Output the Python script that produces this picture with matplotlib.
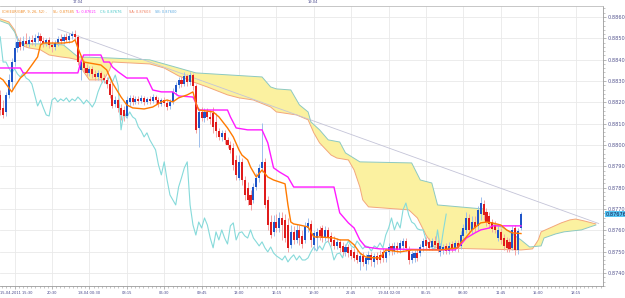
import matplotlib
matplotlib.use("Agg")
import matplotlib.pyplot as plt
import matplotlib.transforms as mtransforms
from matplotlib.ticker import FixedLocator, MultipleLocator, FormatStrFormatter
import numpy as np

# %% EUR/GBP 15 min candles
opens = [0.88235, 0.88174, 0.88155, 0.88235, 0.88296, 0.88389, 0.88455, 0.88483, 0.88464, 0.88488,
         0.88474, 0.88493, 0.88483, 0.88502, 0.88511, 0.88488, 0.88478, 0.88493, 0.88469, 0.88460,
         0.88478, 0.88497, 0.88488, 0.88507, 0.88493, 0.88511, 0.88521, 0.88507, 0.88352, 0.88389,
         0.88361, 0.88338, 0.88357, 0.88333, 0.88319, 0.88338, 0.88314, 0.88305, 0.88286, 0.88235,
         0.88193, 0.88211, 0.88174, 0.88164, 0.88136, 0.88202, 0.88221, 0.88202, 0.88216, 0.88207,
         0.88221, 0.88202, 0.88216, 0.88207, 0.88225, 0.88211, 0.88193, 0.88211, 0.88197, 0.88183,
         0.88202, 0.88249, 0.88282, 0.88305, 0.88286, 0.88324, 0.88296, 0.88328, 0.88277, 0.88080,
         0.88155, 0.88127, 0.88155, 0.88132, 0.88150, 0.88108, 0.88066, 0.88038, 0.88057, 0.88024,
         0.88000, 0.87986, 0.87930, 0.87846, 0.87921, 0.87836, 0.87799, 0.87766, 0.87743, 0.87803,
         0.87846, 0.87893, 0.87921, 0.87743, 0.87639, 0.87593, 0.87639, 0.87611, 0.87658, 0.87649,
         0.87625, 0.87532, 0.87593, 0.87555, 0.87602, 0.87574, 0.87555, 0.87611, 0.87630, 0.87532,
         0.87564, 0.87602, 0.87611, 0.87564, 0.87602, 0.87574, 0.87555, 0.87527, 0.87546, 0.87527,
         0.87499, 0.87522, 0.87508, 0.87499, 0.87485, 0.87452, 0.87480, 0.87443, 0.87461, 0.87485,
         0.87452, 0.87480, 0.87485, 0.87499, 0.87471, 0.87499, 0.87527, 0.87503, 0.87527, 0.87508,
         0.87527, 0.87550, 0.87508, 0.87461, 0.87471, 0.87494, 0.87494, 0.87522, 0.87555, 0.87546,
         0.87522, 0.87550, 0.87541, 0.87499, 0.87508, 0.87527, 0.87503, 0.87536, 0.87518, 0.87541,
         0.87527, 0.87574, 0.87602, 0.87658, 0.87602, 0.87639, 0.87621, 0.87677, 0.87724, 0.87686,
         0.87668, 0.87639, 0.87625, 0.87564, 0.87593, 0.87564, 0.87555, 0.87546, 0.87518, 0.87611,
         0.87508, 0.87611]
highs = [0.88258, 0.88211, 0.88249, 0.88333, 0.88408, 0.88483, 0.88511, 0.88507, 0.88511, 0.88525,
         0.88511, 0.88516, 0.88521, 0.88530, 0.88525, 0.88507, 0.88502, 0.88507, 0.88488, 0.88493,
         0.88511, 0.88521, 0.88521, 0.88525, 0.88525, 0.88535, 0.88539, 0.88516, 0.88408, 0.88399,
         0.88380, 0.88371, 0.88371, 0.88352, 0.88352, 0.88347, 0.88333, 0.88319, 0.88300, 0.88291,
         0.88230, 0.88221, 0.88193, 0.88183, 0.88230, 0.88235, 0.88235, 0.88230, 0.88230, 0.88235,
         0.88230, 0.88225, 0.88230, 0.88239, 0.88235, 0.88225, 0.88221, 0.88225, 0.88211, 0.88216,
         0.88268, 0.88296, 0.88319, 0.88324, 0.88343, 0.88333, 0.88343, 0.88338, 0.88286, 0.88174,
         0.88178, 0.88174, 0.88174, 0.88164, 0.88178, 0.88150, 0.88080, 0.88071, 0.88071, 0.88038,
         0.88019, 0.88010, 0.87953, 0.87953, 0.87939, 0.87855, 0.87827, 0.87789, 0.87822, 0.87869,
         0.87911, 0.88103, 0.87939, 0.87761, 0.87672, 0.87672, 0.87677, 0.87686, 0.87686, 0.87677,
         0.87658, 0.87625, 0.87621, 0.87630, 0.87625, 0.87602, 0.87639, 0.87658, 0.87649, 0.87602,
         0.87611, 0.87621, 0.87625, 0.87621, 0.87616, 0.87593, 0.87574, 0.87564, 0.87560, 0.87546,
         0.87536, 0.87536, 0.87522, 0.87518, 0.87508, 0.87499, 0.87499, 0.87489, 0.87503, 0.87499,
         0.87494, 0.87499, 0.87508, 0.87518, 0.87513, 0.87541, 0.87541, 0.87546, 0.87546, 0.87555,
         0.87564, 0.87564, 0.87527, 0.87503, 0.87508, 0.87513, 0.87536, 0.87564, 0.87569, 0.87564,
         0.87564, 0.87574, 0.87555, 0.87541, 0.87536, 0.87541, 0.87546, 0.87550, 0.87555, 0.87555,
         0.87597, 0.87630, 0.87686, 0.87677, 0.87668, 0.87668, 0.87714, 0.87757, 0.87743, 0.87705,
         0.87686, 0.87653, 0.87644, 0.87621, 0.87611, 0.87583, 0.87569, 0.87564, 0.87621, 0.87625,
         0.87611, 0.87686]
lows = [0.88141, 0.88127, 0.88136, 0.88221, 0.88258, 0.88371, 0.88436, 0.88446, 0.88446, 0.88460,
        0.88460, 0.88469, 0.88464, 0.88483, 0.88474, 0.88460, 0.88464, 0.88455, 0.88436, 0.88446,
        0.88464, 0.88474, 0.88474, 0.88483, 0.88478, 0.88497, 0.88493, 0.88375, 0.88305, 0.88343,
        0.88324, 0.88324, 0.88314, 0.88305, 0.88305, 0.88296, 0.88291, 0.88268, 0.88221, 0.88174,
        0.88178, 0.88155, 0.88118, 0.88113, 0.88127, 0.88183, 0.88188, 0.88193, 0.88193, 0.88197,
        0.88188, 0.88193, 0.88193, 0.88197, 0.88193, 0.88178, 0.88183, 0.88183, 0.88164, 0.88169,
        0.88193, 0.88235, 0.88268, 0.88272, 0.88277, 0.88277, 0.88282, 0.88258, 0.88057, 0.87991,
        0.88113, 0.88108, 0.88118, 0.88099, 0.88057, 0.88038, 0.88024, 0.88019, 0.88005, 0.87986,
        0.87963, 0.87883, 0.87836, 0.87836, 0.87813, 0.87743, 0.87719, 0.87696, 0.87728, 0.87789,
        0.87827, 0.87874, 0.87705, 0.87602, 0.87564, 0.87574, 0.87593, 0.87593, 0.87555, 0.87546,
        0.87499, 0.87518, 0.87536, 0.87541, 0.87532, 0.87518, 0.87541, 0.87593, 0.87522, 0.87508,
        0.87508, 0.87555, 0.87546, 0.87550, 0.87546, 0.87527, 0.87513, 0.87513, 0.87499, 0.87485,
        0.87480, 0.87475, 0.87466, 0.87457, 0.87447, 0.87414, 0.87433, 0.87414, 0.87443, 0.87433,
        0.87428, 0.87443, 0.87447, 0.87452, 0.87452, 0.87485, 0.87485, 0.87489, 0.87494, 0.87494,
        0.87508, 0.87503, 0.87443, 0.87447, 0.87452, 0.87457, 0.87480, 0.87503, 0.87513, 0.87508,
        0.87508, 0.87518, 0.87499, 0.87480, 0.87489, 0.87489, 0.87489, 0.87499, 0.87503, 0.87499,
        0.87513, 0.87555, 0.87588, 0.87583, 0.87583, 0.87593, 0.87602, 0.87649, 0.87649, 0.87621,
        0.87611, 0.87593, 0.87588, 0.87550, 0.87536, 0.87508, 0.87499, 0.87499, 0.87508, 0.87485,
        0.87489, 0.87602]
closes = [0.88164, 0.88141, 0.88235, 0.88305, 0.88389, 0.88455, 0.88483, 0.88460, 0.88488, 0.88474,
          0.88493, 0.88483, 0.88502, 0.88511, 0.88488, 0.88478, 0.88493, 0.88469, 0.88460, 0.88478,
          0.88497, 0.88488, 0.88507, 0.88493, 0.88511, 0.88521, 0.88507, 0.88389, 0.88389, 0.88361,
          0.88338, 0.88357, 0.88333, 0.88319, 0.88338, 0.88314, 0.88305, 0.88286, 0.88235, 0.88183,
          0.88211, 0.88174, 0.88141, 0.88136, 0.88211, 0.88221, 0.88202, 0.88216, 0.88207, 0.88221,
          0.88202, 0.88216, 0.88207, 0.88225, 0.88211, 0.88193, 0.88211, 0.88197, 0.88178, 0.88202,
          0.88249, 0.88282, 0.88305, 0.88286, 0.88324, 0.88296, 0.88328, 0.88277, 0.88071, 0.88155,
          0.88127, 0.88155, 0.88132, 0.88122, 0.88085, 0.88066, 0.88038, 0.88057, 0.88024, 0.88000,
          0.87977, 0.87907, 0.87860, 0.87921, 0.87836, 0.87766, 0.87743, 0.87719, 0.87803, 0.87846,
          0.87893, 0.87921, 0.87719, 0.87625, 0.87578, 0.87639, 0.87611, 0.87658, 0.87625, 0.87564,
          0.87518, 0.87593, 0.87555, 0.87602, 0.87564, 0.87536, 0.87621, 0.87635, 0.87555, 0.87588,
          0.87593, 0.87574, 0.87564, 0.87602, 0.87564, 0.87546, 0.87527, 0.87546, 0.87518, 0.87499,
          0.87522, 0.87494, 0.87480, 0.87471, 0.87461, 0.87480, 0.87452, 0.87471, 0.87485, 0.87461,
          0.87480, 0.87461, 0.87461, 0.87471, 0.87499, 0.87522, 0.87503, 0.87527, 0.87508, 0.87541,
          0.87550, 0.87518, 0.87461, 0.87489, 0.87494, 0.87471, 0.87522, 0.87550, 0.87527, 0.87518,
          0.87550, 0.87532, 0.87513, 0.87527, 0.87522, 0.87503, 0.87527, 0.87518, 0.87541, 0.87518,
          0.87578, 0.87611, 0.87658, 0.87602, 0.87639, 0.87611, 0.87696, 0.87728, 0.87672, 0.87639,
          0.87630, 0.87607, 0.87602, 0.87602, 0.87555, 0.87527, 0.87518, 0.87513, 0.87602, 0.87508,
          0.87597, 0.87676]

# %% ichimoku lines (bar index, price)
tenkan_bars = [0, 1, 3, 4, 5, 7, 9, 11, 13, 14, 15, 22, 25, 26, 27, 28, 29, 35, 37, 39, 42, 44, 46,
               50, 53, 56, 58, 60, 62, 65, 67, 68, 69, 74, 76, 79, 81, 83, 84, 86, 87, 89, 91, 93,
               95, 97, 99, 100, 101, 102, 104, 107, 109, 111, 116, 118, 121, 123, 125, 127, 130,
               132, 134, 139, 143, 148, 153, 159, 160, 162, 164, 167, 169, 171, 174, 176, 178, 181]
tenkan = [0.88314, 0.88305, 0.88268, 0.88249, 0.88272, 0.88314, 0.88338, 0.88375, 0.88413, 0.88469,
          0.88478, 0.88478, 0.88483, 0.88493, 0.88455, 0.88422, 0.88389, 0.88375, 0.88352, 0.88291,
          0.88225, 0.88188, 0.88174, 0.88169, 0.88178, 0.88202, 0.88211, 0.88202, 0.88221, 0.88235,
          0.88249, 0.88197, 0.88164, 0.88155, 0.88132, 0.88080, 0.88038, 0.87977, 0.87953, 0.87930,
          0.87897, 0.87850, 0.87883, 0.87850, 0.87836, 0.87827, 0.87818, 0.87719, 0.87639, 0.87630,
          0.87625, 0.87616, 0.87569, 0.87569, 0.87564, 0.87555, 0.87555, 0.87532, 0.87494, 0.87475,
          0.87471, 0.87471, 0.87508, 0.87499, 0.87508, 0.87508, 0.87508, 0.87518, 0.87541, 0.87569,
          0.87602, 0.87635, 0.87639, 0.87635, 0.87625, 0.87602, 0.87588, 0.87585]

kijun_bars = [0, 7, 8, 27, 28, 29, 35, 36, 38, 39, 41, 44, 51, 53, 56, 60, 62, 67, 68, 69, 79, 80,
              82, 86, 91, 93, 95, 97, 100, 102, 116, 118, 121, 123, 125, 127, 132, 158, 160, 162,
              165, 167, 170, 171, 181]
kijun = [0.88361, 0.88361, 0.88338, 0.88338, 0.88389, 0.88422, 0.88422, 0.88389, 0.88389, 0.88366,
         0.88343, 0.88314, 0.88314, 0.88258, 0.88249, 0.88249, 0.88230, 0.88225, 0.88197, 0.88164,
         0.88164, 0.88132, 0.88080, 0.88071, 0.88071, 0.88010, 0.87893, 0.87874, 0.87850, 0.87803,
         0.87803, 0.87682, 0.87635, 0.87611, 0.87555, 0.87522, 0.87513, 0.87508, 0.87532, 0.87564,
         0.87588, 0.87602, 0.87611, 0.87621, 0.87621]

span_b_bars = [0, 3, 5, 6, 8, 17, 22, 27, 38, 52, 57, 62, 68, 91, 94, 96, 101, 104, 107, 108, 111,
               114, 118, 120, 125, 143, 146, 150, 152, 168, 170, 175, 181, 184, 188, 189, 193, 196,
               202, 205, 207]
span_b = [0.88582, 0.88567, 0.88530, 0.88493, 0.88474, 0.88474, 0.88469, 0.88413, 0.88408, 0.88399,
          0.88380, 0.88361, 0.88338, 0.88319, 0.88272, 0.88263, 0.88258, 0.88188, 0.88155, 0.88108,
          0.88071, 0.88024, 0.88014, 0.87963, 0.87921, 0.87916, 0.87836, 0.87822, 0.87719, 0.87700,
          0.87639, 0.87611, 0.87555, 0.87522, 0.87527, 0.87564, 0.87583, 0.87593, 0.87602, 0.87616,
          0.87625]

span_a_bars = [0, 3, 5, 6, 8, 10, 14, 17, 21, 24, 27, 29, 31, 36, 38, 39, 52, 57, 62, 67, 72, 79,
               83, 88, 94, 96, 103, 107, 109, 111, 115, 117, 121, 123, 125, 126, 128, 142, 145, 148,
               151, 181, 185, 187, 188, 191, 195, 198, 200, 203, 207]
span_a = [0.88591, 0.88577, 0.88539, 0.88502, 0.88464, 0.88455, 0.88446, 0.88422, 0.88413, 0.88408,
          0.88399, 0.88343, 0.88305, 0.88305, 0.88352, 0.88389, 0.88380, 0.88361, 0.88324, 0.88296,
          0.88272, 0.88235, 0.88221, 0.88211, 0.88178, 0.88155, 0.88141, 0.88118, 0.88057, 0.88010,
          0.87953, 0.87939, 0.87930, 0.87883, 0.87803, 0.87743, 0.87710, 0.87696, 0.87658, 0.87578,
          0.87518, 0.87508, 0.87513, 0.87555, 0.87593, 0.87611, 0.87635, 0.87649, 0.87653, 0.87644,
          0.87630]

chikou_shift = 26
trend_bars = [20, 208]
trend_prices = [0.88544, 0.87632]

last_price = "0.87676"
x_labels = ["15-04-2011 15:30", "20:30", "18-04 00:30", "03:15", "06:30", "09:45", "13:00", "16:15",
            "19:30", "22:45", "19-04 02:00", "05:15", "08:30", "11:45", "15:00", "18:15"]
legend_parts = [("ICH(EUR/GBP, 9, 26, 52) -", "#f08a24"), ("SL: 0.87585", "#f08a24"),
                ("TL: 0.87621", "#ff22ff"), ("CS: 0.87676", "#3cc4c4"),
                ("SA: 0.87603", "#f07a5a"), ("SB: 0.87600", "#5aa8e0")]

# %% figure
fig = plt.figure(figsize=(6.25, 2.98), dpi=100)
ax = fig.add_axes([0, 12 / 298, 603 / 625, 280 / 298])
ax.set_xlim(-0.07, 209.5)
ax.set_ylim(0.873391, 0.886516)

o = np.array(opens)
h = np.array(highs)
l = np.array(lows)
c = np.array(closes)
idx = np.arange(len(c))
up = c >= o

# cloud
poly_x = np.r_[span_b_bars, span_a_bars[::-1]]
poly_y = np.r_[span_b, span_a[::-1]]
ax.fill(poly_x, poly_y, color="#fbf1a0", lw=0, zorder=1)
ax.plot(span_a_bars, span_a, color="#f3a77c", lw=0.7, zorder=1.5)
ax.plot(span_b_bars, span_b, color="#8cc9c2", lw=0.7, zorder=1.5)

# chikou = close shifted back
ax.plot(idx[:-chikou_shift], c[chikou_shift:], color="#86dada", lw=0.8, zorder=2)

# trend line
ax.plot(trend_bars, trend_prices, color="#c4c4d8", lw=0.6, zorder=2)

# candles
wick_col = np.where(up, "#9dbfec", "#f3a3a3")
body_col = np.where(up, "#1f55c8", "#e01b1b")
ax.vlines(idx, l, h, colors=wick_col, lw=0.7, zorder=3)
body_h = np.maximum(np.abs(c - o), 0.00002)
ax.bar(idx, body_h, bottom=np.minimum(o, c), width=0.72, color=body_col, lw=0, zorder=3.5)

# tenkan / kijun
ax.plot(kijun_bars, kijun, color="#ff1aff", lw=1.0, zorder=4)
ax.plot(tenkan_bars, tenkan, color="#ff7a00", lw=1.0, zorder=4.5)

# axes styling
ax.set_axisbelow(True)
ax.grid(True, color="#e9e9e9", lw=0.6)
ax.spines["left"].set_visible(False)
ax.spines["top"].set_color("#bdbdbd")
ax.spines["right"].set_color("#9a9a9a")
ax.spines["bottom"].set_color("#9a9a9a")
for s in ["top", "right", "bottom"]:
    ax.spines[s].set_linewidth(0.6)

ax.yaxis.tick_right()
ax.yaxis.set_major_locator(FixedLocator(np.arange(0.8740, 0.88605, 0.001)))
ax.yaxis.set_minor_locator(MultipleLocator(0.0002))
ax.yaxis.set_major_formatter(FormatStrFormatter("%.4f"))
ax.tick_params(axis="y", which="major", labelsize=3.6, labelcolor="#55558f", color="#9a9a9a",
               length=2.5, width=0.5, pad=0.6)
ax.tick_params(axis="y", which="minor", color="#9a9a9a", length=1.3, width=0.4)

ax.set_xticks(np.arange(5, 201, 13))
ax.set_xticklabels([""] + x_labels[1:])
ax.xaxis.set_minor_locator(FixedLocator(np.arange(5 - 13, 210, 13 / 9)))
ax.tick_params(axis="x", which="major", labelsize=2.6, labelcolor="#45458a", color="#9a9a9a",
               length=2.0, width=0.5, pad=1.6)
ax.tick_params(axis="x", which="minor", color="#9a9a9a", length=1.2, width=0.4)
# first date label sits flush with the left edge
fig.text(0.5 / 625, 4.8 / 298, x_labels[0], fontsize=2.6, color="#45458a", ha="left", va="center")

# last price box
trans = mtransforms.blended_transform_factory(ax.transAxes, ax.transData)
ax.text(1.004, float(last_price), last_price, transform=trans, fontsize=3.6, color="#1a1a4a",
        va="center", ha="left", zorder=6,
        bbox=dict(boxstyle="square,pad=0.15", facecolor="#55c6f4", edgecolor="none"))

# top strip labels
fig.text(78 / 625, 1 - 2 / 298, "17.04", fontsize=2.6, color="#45458a", ha="center", va="center")
fig.text(313 / 625, 1 - 2 / 298, "19.04", fontsize=2.6, color="#45458a", ha="center", va="center")

# legend row
legend_x = [2, 53, 75, 100, 129, 155]
for (txt, col), px in zip(legend_parts, legend_x):
    fig.text(px / 625, 1 - 12 / 298, txt, fontsize=2.5, color=col, ha="left", va="center")

fig.savefig("out.png", dpi=100)
